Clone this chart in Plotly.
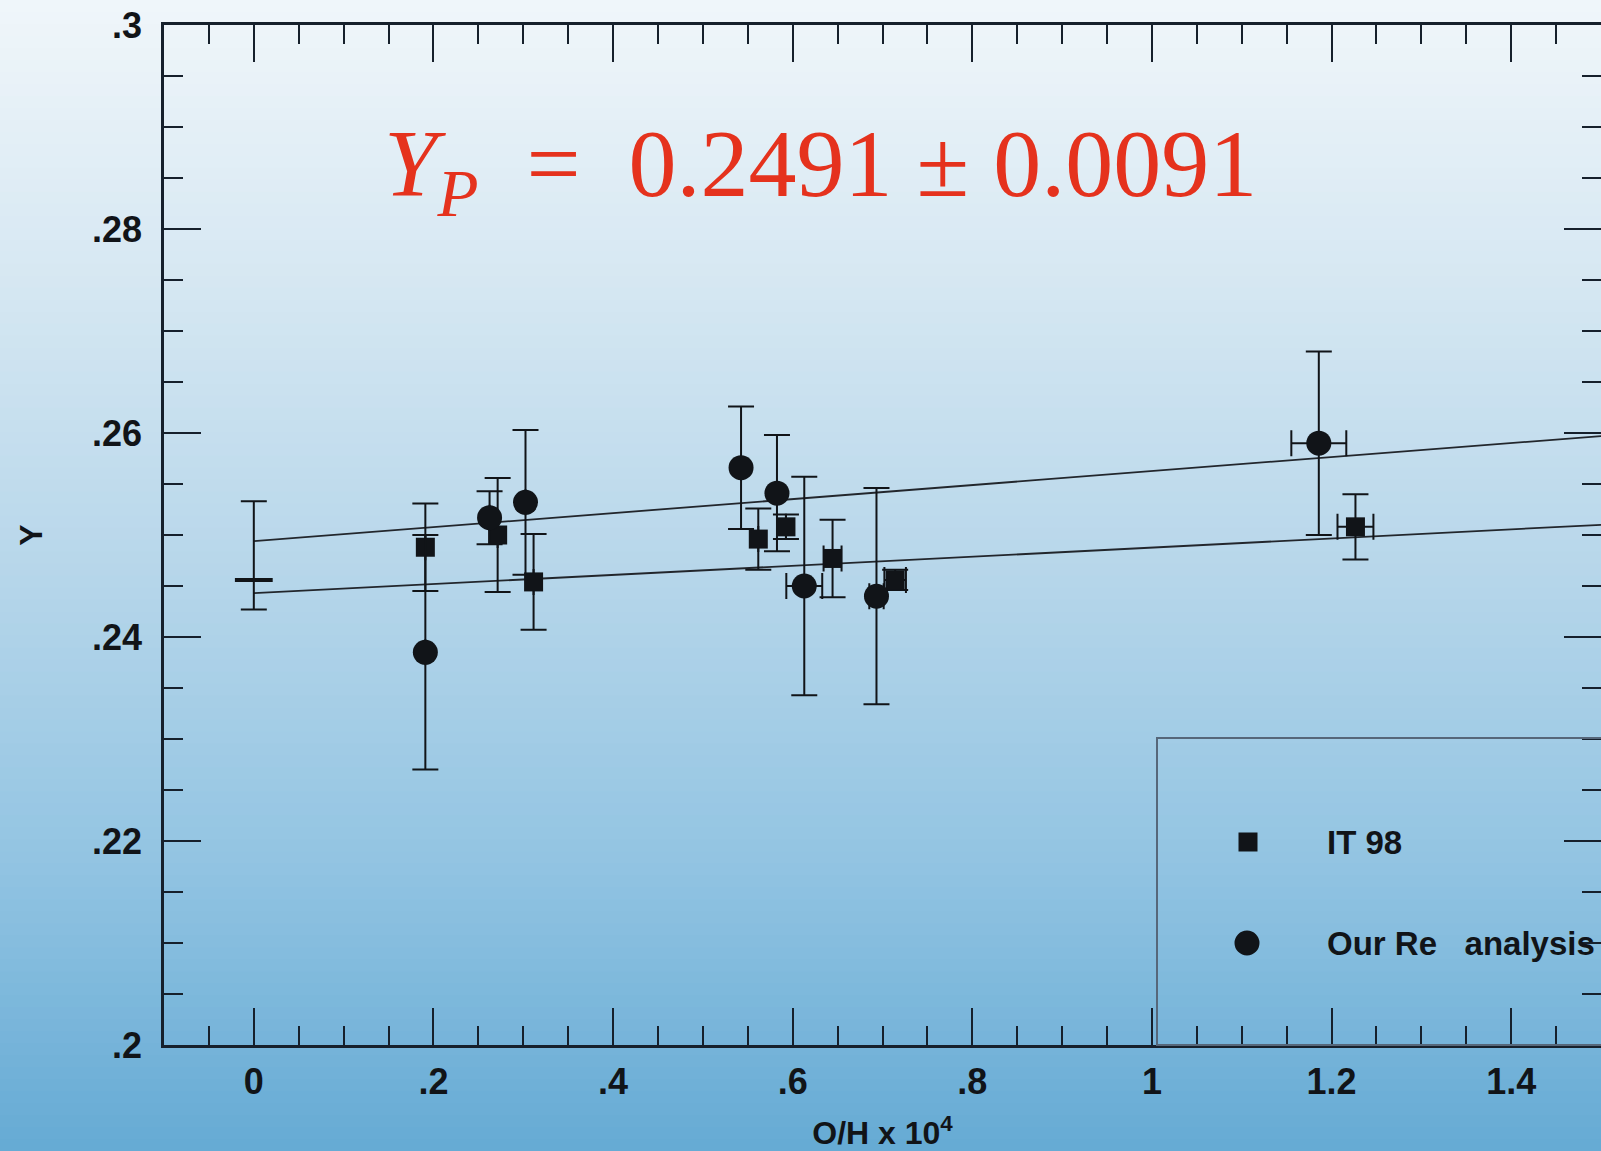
import plotly.graph_objects as go

# ---------------- data ----------------
it98_x = [0.191, 0.2715, 0.3115, 0.5617, 0.5925, 0.6444, 0.7141, 1.2266]
it98_y = [0.2488, 0.2500, 0.2454, 0.2496, 0.2508, 0.2477, 0.2456, 0.2508]
it98_yerr = [0.0043, 0.0056, 0.0047, 0.0030, 0.0012, 0.0038, 0.0010, 0.0032]
it98_xerr = [None, None, None, None, None, 0.010, 0.012, 0.020]

re_x = [0.191, 0.2625, 0.3025, 0.5425, 0.5825, 0.6129, 0.6933, 1.1858]
re_y = [0.2385, 0.2517, 0.2532, 0.2566, 0.2541, 0.2450, 0.2440, 0.2590]
re_yerr = [0.0115, 0.0026, 0.0071, 0.0060, 0.0057, 0.0107, 0.0106, 0.0090]
re_xerr = [None, None, None, None, None, 0.020, 0.008, 0.0306]

prim_x = [0.0]
prim_y = [0.2456]
prim_err_plus = [0.0077]
prim_err_minus = [0.0029]

fit_x = [0.0, 1.5]
fit_upper = [0.2494, 0.2597]
fit_lower = [0.2443, 0.2510]

x_tickvals = [0, 0.2, 0.4, 0.6, 0.8, 1.0, 1.2, 1.4]
x_ticktext = ["0", ".2", ".4", ".6", ".8", "1", "1.2", "1.4"]
y_tickvals = [0.20, 0.22, 0.24, 0.26, 0.28, 0.30]
y_ticktext = [".2", ".22", ".24", ".26", ".28", ".3"]

legend_labels = ["IT 98", "Our Re   analysis"]
title_text = "<i>Y</i><sub><i>P</i></sub>  =  0.2491 ± 0.0091"

# ---------------- styling ----------------
W, H = 1601, 1151
ML, MR, MT, MB = 164, 0, 25, 106
INK = "#111418"
AX = "#16202c"
FONT = "Liberation Sans"

fig = go.Figure()

err_style = dict(color=INK, thickness=2, width=13)

fig.add_trace(go.Scatter(x=fit_x, y=fit_upper, mode="lines",
                         line=dict(color="#22262c", width=1.8), showlegend=False, hoverinfo="skip"))
fig.add_trace(go.Scatter(x=fit_x, y=fit_lower, mode="lines",
                         line=dict(color="#22262c", width=1.8), showlegend=False, hoverinfo="skip"))

fig.add_trace(go.Scatter(
    x=prim_x, y=prim_y, mode="markers", showlegend=False,
    marker=dict(symbol="line-ew", size=27, line=dict(color=INK, width=4)),
    error_y=dict(type="data", symmetric=False, array=prim_err_plus,
                 arrayminus=prim_err_minus, **err_style)))

fig.add_trace(go.Scatter(
    x=it98_x, y=it98_y, mode="markers", name=legend_labels[0], showlegend=False,
    marker=dict(symbol="square", size=19, color=INK),
    error_y=dict(type="data", array=it98_yerr, **err_style),
    error_x=dict(type="data", array=it98_xerr, **err_style)))

fig.add_trace(go.Scatter(
    x=re_x, y=re_y, mode="markers", name=legend_labels[1], showlegend=False,
    marker=dict(symbol="circle", size=25, color=INK),
    error_y=dict(type="data", array=re_yerr, **err_style),
    error_x=dict(type="data", array=re_xerr, **err_style)))

# ---------------- background gradient ----------------
stops = [(0.0, (240, 246, 250)), (0.25, (213, 231, 242)), (0.5, (182, 214, 234)),
         (0.75, (146, 196, 226)), (1.0, (101, 170, 212))]


def grad_color(t):
    for (t0, c0), (t1, c1) in zip(stops[:-1], stops[1:]):
        if t <= t1:
            f = (t - t0) / (t1 - t0)
            return "rgb(%d,%d,%d)" % tuple(round(a + (b - a) * f) for a, b in zip(c0, c1))
    return "rgb(%d,%d,%d)" % stops[-1][1]


plot_h = H - MT - MB
plot_w = W - ML - MR
shapes = []
N = 96
for i in range(N):
    p0 = H * i / N
    p1 = H * (i + 1) / N + 1
    y0 = (H - MB - p0) / plot_h
    y1 = (H - MB - p1) / plot_h
    shapes.append(dict(type="rect", xref="paper", yref="paper",
                       x0=-ML / plot_w - 0.01, x1=1.02, y0=y1, y1=y0,
                       fillcolor=grad_color((i + 0.5) / N), line=dict(width=0), layer="below"))

# legend box and keys
px = lambda xpix: (xpix - ML) / plot_w
py = lambda ypix: (H - MB - ypix) / plot_h
shapes.append(dict(type="rect", xref="paper", yref="paper", x0=px(1157), x1=1.05,
                   y0=0, y1=py(738), line=dict(color="#56677a", width=2), layer="above"))
shapes.append(dict(type="rect", xref="paper", yref="paper", xsizemode="pixel", ysizemode="pixel",
                   xanchor=px(1248), yanchor=py(842), x0=-9.5, x1=9.5, y0=-9.5, y1=9.5,
                   fillcolor=INK, line=dict(width=0)))
shapes.append(dict(type="circle", xref="paper", yref="paper", xsizemode="pixel", ysizemode="pixel",
                   xanchor=px(1247), yanchor=py(943), x0=-12.5, x1=12.5, y0=-12.5, y1=12.5,
                   fillcolor=INK, line=dict(width=0)))

annotations = [
    dict(text=legend_labels[0], xref="paper", yref="paper", x=px(1325), y=py(842),
         xanchor="left", yanchor="middle", showarrow=False,
         font=dict(family=FONT, size=33, color=INK, weight="bold")),
    dict(text=legend_labels[1], xref="paper", yref="paper", x=px(1325), y=py(943),
         xanchor="left", yanchor="middle", showarrow=False,
         font=dict(family=FONT, size=33, color=INK, weight="bold")),
    dict(text=title_text, xref="paper", yref="paper", x=px(820), y=py(170),
         xanchor="center", yanchor="middle", showarrow=False,
         font=dict(family="Liberation Serif", size=96, color="#e5321d")),
]

axis_common = dict(showgrid=False, zeroline=False, showline=True, linecolor=AX, linewidth=2.5,
                   mirror="ticks", ticks="inside", ticklen=37, tickwidth=2, tickcolor=AX,
                   tickmode="array",
                   tickfont=dict(family=FONT, size=36, color=INK, weight="bold"))

fig.update_layout(
    width=W, height=H,
    margin=dict(l=ML, r=MR, t=MT, b=MB, autoexpand=False),
    paper_bgcolor="rgb(240,246,250)", plot_bgcolor="rgba(0,0,0,0)",
    showlegend=False,
    shapes=shapes, annotations=annotations,
    xaxis=dict(range=[-0.1, 1.5], tickvals=x_tickvals, ticktext=x_ticktext,
               minor=dict(ticks="inside", ticklen=19, tickwidth=2, tickcolor=AX, dtick=0.05, tick0=0),
               ticklabelstandoff=3,
               title=dict(text="O/H x 10<sup>4</sup>", standoff=30,
                          font=dict(family=FONT, size=32, color=INK, weight="bold")),
               automargin=False, **axis_common),
    yaxis=dict(range=[0.2, 0.3], tickvals=y_tickvals, ticktext=y_ticktext,
               minor=dict(ticks="inside", ticklen=19, tickwidth=2, tickcolor=AX, dtick=0.005, tick0=0.2),
               ticklabelstandoff=12,
               title=dict(text="Y", standoff=40,
                          font=dict(family=FONT, size=32, color=INK, weight="bold")),
               automargin=False, **axis_common),
)

fig.write_html("out.html", config={"displayModeBar": False},
               post_script="document.body.style.margin='0px';document.body.style.overflow='hidden';")
